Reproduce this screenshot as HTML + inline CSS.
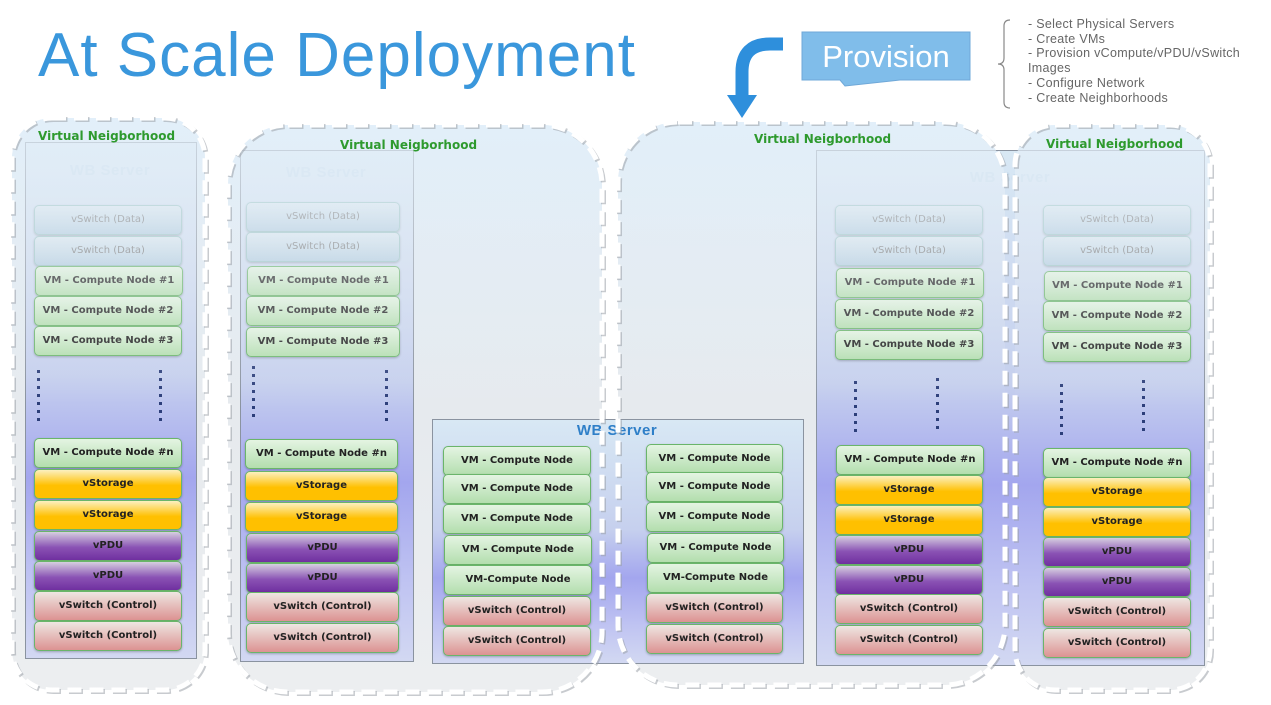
<!DOCTYPE html>
<html><head><meta charset="utf-8"><style>
body{margin:0;width:1271px;height:705px;background:#fff;position:relative;overflow:hidden;font-family:"Liberation Sans",sans-serif}
.abs{position:absolute}
svg{position:absolute;left:0;top:0}
.srv{position:absolute;border:1px solid #8a93a0;background:linear-gradient(#d8e8f4 0%,#c6d0ee 45%,#a3a6ee 65%,#c0c4f2 85%,#d2d8f2 100%)}
.lbl{position:absolute;font:bold 15px "Liberation Sans",sans-serif;color:#2e7fc8;text-align:center;letter-spacing:.5px}
.b{position:absolute;width:146px;height:28px;border:1px solid #6ab56a;border-radius:5px;font:bold 10px "DejaVu Sans","Liberation Sans",sans-serif;color:#222;text-align:center;line-height:27px;box-shadow:0 1px 2px rgba(0,0,0,.25);letter-spacing:0px}
.d{background:linear-gradient(#dbe8f0,#b2cde0);border-color:#9ac4c4;color:#777;font-weight:normal}
.c{background:linear-gradient(#e4f4e2,#b3deae)}
.s{background:linear-gradient(#fbf0c0 0%,#ffc000 55%,#ffc000 100%)}
.p{background:linear-gradient(#d6cfe0 0%,#8a52b4 55%,#7030a0 100%)}
.w{background:linear-gradient(#eee6e2,#dc9292)}
.dot{position:absolute;width:3px;background:repeating-linear-gradient(#2c3e7a 0 3px,transparent 3px 8px)}
</style></head><body>

<svg width="1271" height="705">
<defs>
<linearGradient id="ng" x1="0" y1="0" x2="0" y2="1"><stop offset="0" stop-color="#dcecf8"/><stop offset="0.5" stop-color="#e6eaee"/><stop offset="1" stop-color="#eceef0"/></linearGradient>
</defs>
<rect x="12" y="118" width="193" height="572" rx="40" fill="url(#ng)"/>
<rect x="228" y="125" width="374" height="567" rx="60" fill="url(#ng)"/>
<rect x="618" y="122" width="387" height="563" rx="60" fill="url(#ng)"/>
<rect x="1015" y="125" width="195" height="565" rx="40" fill="url(#ng)"/>
</svg>

<div class="srv" style="left:25px;top:142px;width:170px;height:515px"></div>
<div class="srv" style="left:240px;top:150px;width:172px;height:510px"></div>
<div class="srv" style="left:432px;top:419px;width:370px;height:243px"></div>
<div class="srv" style="left:816px;top:150px;width:387px;height:514px"></div>

<div class="lbl" style="left:25px;top:162px;width:170px;color:#c8dcec">WB Server</div>
<div class="lbl" style="left:240px;top:164px;width:172px;color:#c8dcec">WB Server</div>
<div class="lbl" style="left:432px;top:422px;width:370px">WB Server</div>
<div class="lbl" style="left:920px;top:169px;width:180px;color:#c8dcec">WB Server</div>

<!-- S1 -->
<div class="b d" style="left:34px;top:205px">vSwitch (Data)</div>
<div class="b d" style="left:34px;top:236px">vSwitch (Data)</div>
<div class="b c" style="left:35px;top:266px">VM - Compute Node #1</div>
<div class="b c" style="left:34px;top:296px">VM - Compute Node #2</div>
<div class="b c" style="left:34px;top:326px">VM - Compute Node #3</div>
<div class="dot" style="left:37px;top:370px;height:52px"></div>
<div class="dot" style="left:159px;top:370px;height:52px"></div>
<div class="b c" style="left:34px;top:438px">VM - Compute Node #n</div>
<div class="b s" style="left:34px;top:469px">vStorage</div>
<div class="b s" style="left:34px;top:500px">vStorage</div>
<div class="b p" style="left:34px;top:531px">vPDU</div>
<div class="b p" style="left:34px;top:561px">vPDU</div>
<div class="b w" style="left:34px;top:591px">vSwitch (Control)</div>
<div class="b w" style="left:34px;top:621px">vSwitch (Control)</div>

<!-- S2 -->
<div class="b d" style="left:246px;top:202px;width:152px">vSwitch (Data)</div>
<div class="b d" style="left:246px;top:232px;width:152px">vSwitch (Data)</div>
<div class="b c" style="left:247px;top:266px;width:151px">VM - Compute Node #1</div>
<div class="b c" style="left:246px;top:296px;width:152px">VM - Compute Node #2</div>
<div class="b c" style="left:246px;top:327px;width:152px">VM - Compute Node #3</div>
<div class="dot" style="left:252px;top:366px;height:56px"></div>
<div class="dot" style="left:385px;top:370px;height:52px"></div>
<div class="b c" style="left:245px;top:439px;width:151px">VM - Compute Node #n</div>
<div class="b s" style="left:245px;top:471px;width:151px">vStorage</div>
<div class="b s" style="left:245px;top:502px;width:151px">vStorage</div>
<div class="b p" style="left:246px;top:533px;width:151px">vPDU</div>
<div class="b p" style="left:246px;top:563px;width:151px">vPDU</div>
<div class="b w" style="left:246px;top:592px;width:151px">vSwitch (Control)</div>
<div class="b w" style="left:246px;top:623px;width:151px">vSwitch (Control)</div>

<!-- S3 -->
<div class="b c" style="left:443px;top:446px">VM - Compute Node</div>
<div class="b c" style="left:443px;top:474px">VM - Compute Node</div>
<div class="b c" style="left:443px;top:504px">VM - Compute Node</div>
<div class="b c" style="left:444px;top:535px">VM - Compute Node</div>
<div class="b c" style="left:444px;top:565px">VM-Compute Node</div>
<div class="b w" style="left:443px;top:596px">vSwitch (Control)</div>
<div class="b w" style="left:443px;top:626px">vSwitch (Control)</div>
<div class="b c" style="left:646px;top:444px;width:135px">VM - Compute Node</div>
<div class="b c" style="left:646px;top:472px;width:135px">VM - Compute Node</div>
<div class="b c" style="left:646px;top:502px;width:135px">VM - Compute Node</div>
<div class="b c" style="left:647px;top:533px;width:135px">VM - Compute Node</div>
<div class="b c" style="left:647px;top:563px;width:135px">VM-Compute Node</div>
<div class="b w" style="left:646px;top:593px;width:135px">vSwitch (Control)</div>
<div class="b w" style="left:646px;top:624px;width:135px">vSwitch (Control)</div>

<!-- S4 -->
<div class="b d" style="left:835px;top:205px">vSwitch (Data)</div>
<div class="b d" style="left:835px;top:236px">vSwitch (Data)</div>
<div class="b c" style="left:836px;top:268px">VM - Compute Node #1</div>
<div class="b c" style="left:835px;top:299px">VM - Compute Node #2</div>
<div class="b c" style="left:835px;top:330px">VM - Compute Node #3</div>
<div class="dot" style="left:854px;top:381px;height:52px"></div>
<div class="dot" style="left:936px;top:378px;height:52px"></div>
<div class="b c" style="left:836px;top:445px">VM - Compute Node #n</div>
<div class="b s" style="left:835px;top:475px">vStorage</div>
<div class="b s" style="left:835px;top:505px">vStorage</div>
<div class="b p" style="left:835px;top:535px">vPDU</div>
<div class="b p" style="left:835px;top:565px">vPDU</div>
<div class="b w" style="left:835px;top:594px">vSwitch (Control)</div>
<div class="b w" style="left:835px;top:625px">vSwitch (Control)</div>

<!-- S5 -->
<div class="b d" style="left:1043px;top:205px">vSwitch (Data)</div>
<div class="b d" style="left:1043px;top:236px">vSwitch (Data)</div>
<div class="b c" style="left:1044px;top:271px;width:145px">VM - Compute Node #1</div>
<div class="b c" style="left:1043px;top:301px">VM - Compute Node #2</div>
<div class="b c" style="left:1043px;top:332px">VM - Compute Node #3</div>
<div class="dot" style="left:1060px;top:384px;height:52px"></div>
<div class="dot" style="left:1142px;top:380px;height:52px"></div>
<div class="b c" style="left:1043px;top:448px">VM - Compute Node #n</div>
<div class="b s" style="left:1043px;top:477px">vStorage</div>
<div class="b s" style="left:1043px;top:507px">vStorage</div>
<div class="b p" style="left:1043px;top:537px">vPDU</div>
<div class="b p" style="left:1043px;top:567px">vPDU</div>
<div class="b w" style="left:1043px;top:597px">vSwitch (Control)</div>
<div class="b w" style="left:1043px;top:628px">vSwitch (Control)</div>

<svg width="1271" height="705">
<defs>
<linearGradient id="ov" x1="0" y1="0" x2="0" y2="1"><stop offset="0" stop-color="#e4f0fa" stop-opacity="0.75"/><stop offset="0.25" stop-color="#e8eef4" stop-opacity="0.4"/><stop offset="0.5" stop-color="#eef0f4" stop-opacity="0"/><stop offset="1" stop-color="#eef0f4" stop-opacity="0"/></linearGradient>
</defs>
<g fill="url(#ov)">
<rect x="12" y="118" width="193" height="572" rx="40"/>
<rect x="228" y="125" width="374" height="567" rx="60"/>
<rect x="618" y="122" width="387" height="563" rx="60"/>
<rect x="1015" y="125" width="195" height="565" rx="40"/>
</g>
<g fill="none" stroke="#9aa0a8" stroke-opacity="0.55" stroke-width="5" stroke-dasharray="14 8" transform="translate(1.5,1.5)">
<rect x="12" y="118" width="193" height="572" rx="40"/>
<rect x="228" y="125" width="374" height="567" rx="60"/>
<rect x="618" y="122" width="387" height="563" rx="60"/>
<rect x="1015" y="125" width="195" height="565" rx="40"/>
</g>
<g fill="none" stroke="#fff" stroke-width="5" stroke-dasharray="14 8">
<rect x="12" y="118" width="193" height="572" rx="40"/>
<rect x="228" y="125" width="374" height="567" rx="60"/>
<rect x="618" y="122" width="387" height="563" rx="60"/>
<rect x="1015" y="125" width="195" height="565" rx="40"/>
</g>
<!-- arrow -->
<path d="M783 44 H770 Q742 44 742 72 V95" fill="none" stroke="#2e8fdc" stroke-width="13"/>
<polygon points="727,95 757,95 742,118" fill="#2e8fdc"/>
<!-- provision box -->
<path d="M802 32 H970 V80 H900 L845 86 L840 80 H802 Z" fill="#80bdea" stroke="#6fa8d8"/>
<text x="886" y="67" font-family="Liberation Sans" font-size="31" fill="#fff" text-anchor="middle">Provision</text>
<!-- brace -->
<path d="M1010 20 Q1004 20 1004 26 V58 Q1004 64 998 64 Q1004 64 1004 70 V102 Q1004 108 1010 108" fill="none" stroke="#888" stroke-width="1.2"/>
</svg>

<div class="abs" style="left:38px;top:20px;font-size:62px;color:#3a97dc;letter-spacing:1px">At Scale Deployment</div>
<div class="abs" style="left:1028px;top:17px;font-size:12.5px;color:#666;line-height:14.7px;letter-spacing:.3px">- Select Physical Servers<br>- Create VMs<br>- Provision vCompute/vPDU/vSwitch<br>Images<br>- Configure Network<br>- Create Neighborhoods</div>

<div class="abs" style="left:38px;top:129px;font:bold 12px 'DejaVu Sans',sans-serif;color:#2e9a2e">Virtual Neigborhood</div>
<div class="abs" style="left:340px;top:138px;font:bold 12px 'DejaVu Sans',sans-serif;color:#2e9a2e">Virtual Neigborhood</div>
<div class="abs" style="left:754px;top:132px;font:bold 12px 'DejaVu Sans',sans-serif;color:#2e9a2e">Virtual Neigborhood</div>
<div class="abs" style="left:1046px;top:137px;font:bold 12px 'DejaVu Sans',sans-serif;color:#2e9a2e">Virtual Neigborhood</div>
</body></html>
